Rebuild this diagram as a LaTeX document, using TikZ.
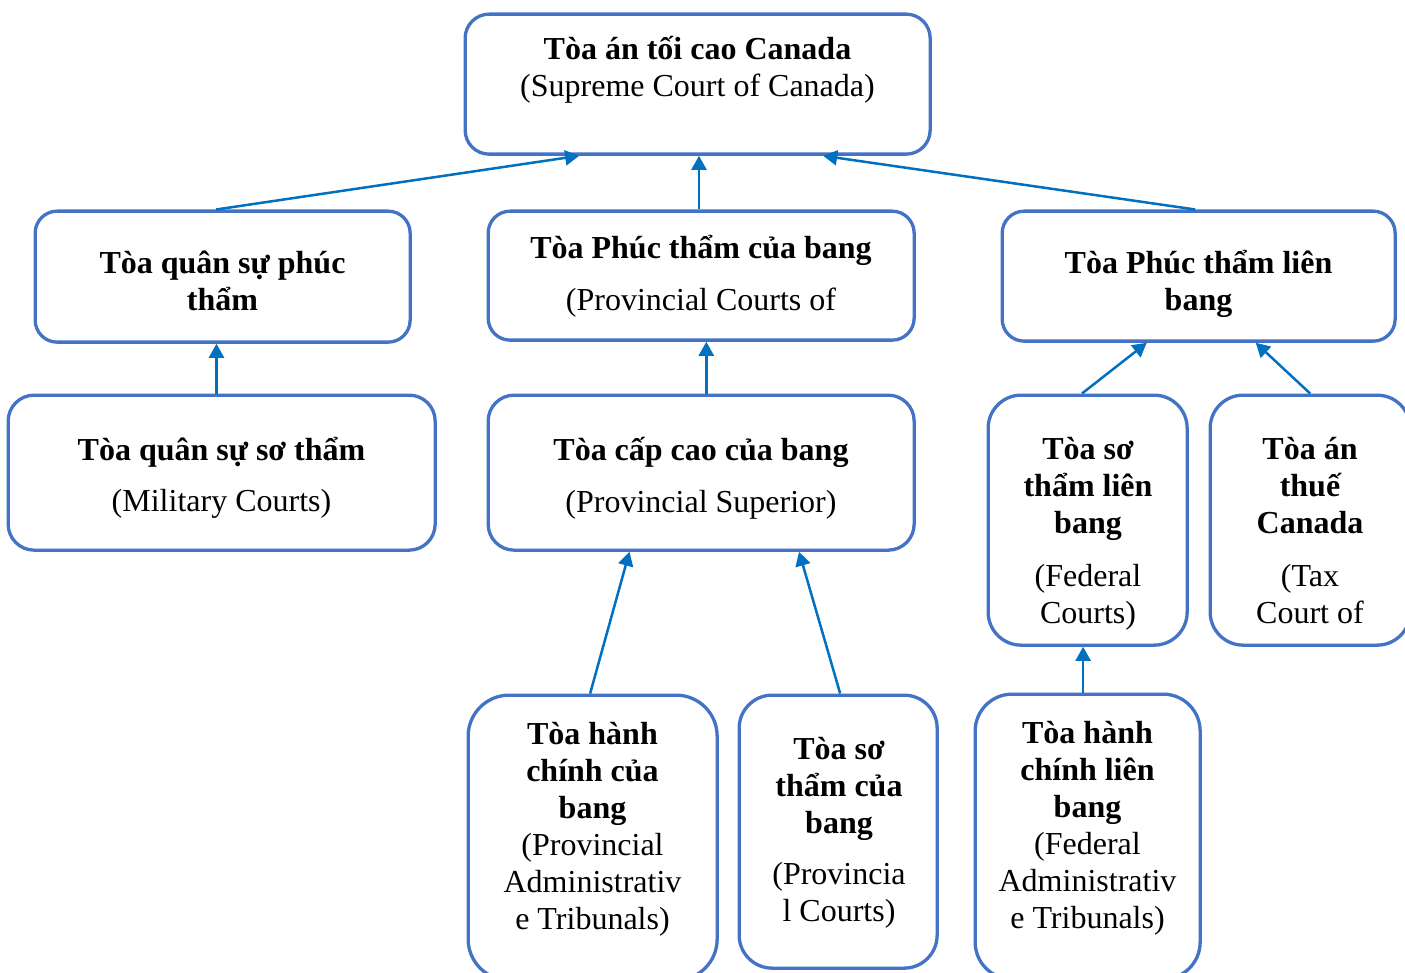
\documentclass[tikz,border=0pt]{standalone}
\usepackage{fontspec}
\setmainfont{Liberation Serif}
\usetikzlibrary{arrows.meta,calc}
\definecolor{boxblue}{HTML}{4472C4}
\definecolor{arrowblue}{HTML}{0070C0}
\newcommand\boxtext[2]{\parbox[t]{#1}{\centering #2}}
\begin{document}
\begin{tikzpicture}[x=1pt,y=-1pt,
  court/.style={draw=boxblue, line width=3.3pt, fill=white, inner sep=0pt, anchor=north west},
  ctext/.style={inner sep=0pt, anchor=base, font=\fontsize{32}{37}\selectfont},
  link/.style={draw=arrowblue, line width=2.5pt, -{Triangle[length=14pt,width=15pt]}}
]
\useasboundingbox[fill=white] (0,0) rectangle (1405,973);

% boxes
\node[court, rounded corners=24pt, minimum width=465pt, minimum height=140pt] (top) at (463.5,12.5) {};
\node[court, rounded corners=22pt, minimum width=375pt, minimum height=131pt] (milapp) at (33.5,209.5) {};
\node[court, rounded corners=22pt, minimum width=426pt, minimum height=129pt] (provapp) at (486.5,209.5) {};
\node[court, rounded corners=22pt, minimum width=393pt, minimum height=130pt] (fedapp) at (1000.5,209.5) {};
\node[court, rounded corners=26pt, minimum width=427pt, minimum height=155pt] (miltrial) at (6.5,393.5) {};
\node[court, rounded corners=26pt, minimum width=426pt, minimum height=155pt] (provsup) at (486.5,393.5) {};
\node[court, rounded corners=33pt, minimum width=199pt, minimum height=250pt] (fedcourts) at (986.5,393.5) {};
\node[court, rounded corners=33pt, minimum width=200pt, minimum height=250pt] (tax) at (1208.5,393.5) {};
\node[court, rounded corners=41pt, minimum width=249pt, minimum height=285pt] (provadmin) at (466.5,693.5) {};
\node[court, rounded corners=33pt, minimum width=198pt, minimum height=273pt] (provcourts) at (737.5,693.5) {};
\node[court, rounded corners=37pt, minimum width=225pt, minimum height=285pt] (fedadmin) at (973.5,692.5) {};

% texts
\node[ctext] (toptext) at (697.5,60) {\boxtext{455pt}{\bfseries Tòa án tối cao Canada\\ \mdseries (Supreme Court of Canada)}};
\node[ctext] (milapptext) at (222.5,274) {\boxtext{365pt}{\bfseries Tòa quân sự phúc\\thẩm}};
\node[ctext] (provapptext) at (701,259) {\boxtext{416pt}{\bfseries Tòa Phúc thẩm của bang\\[15pt]\mdseries (Provincial Courts of}};
\node[ctext] (fedapptext) at (1198.5,274) {\boxtext{383pt}{\bfseries Tòa Phúc thẩm liên\\bang}};
\node[ctext] (miltrialtext) at (221.5,460) {\boxtext{417pt}{\bfseries Tòa quân sự sơ thẩm\\[14pt]\mdseries (Military Courts)}};
\node[ctext] (provsuptext) at (701,460) {\boxtext{416pt}{\bfseries Tòa cấp cao của bang\\[15pt]\mdseries (Provincial Superior)}};
\node[ctext] (fedcourtstext) at (1088,459) {\boxtext{192pt}{\bfseries Tòa sơ\\thẩm liên\\bang\\[16pt]\mdseries (Federal\\Courts)}};
\node[ctext] (taxtext) at (1310,459) {\boxtext{192pt}{\bfseries Tòa án\\thuế\\Canada\\[16pt]\mdseries (Tax\\Court of}};
\node[ctext] (provadmintext) at (592.5,744) {\boxtext{240pt}{\bfseries Tòa hành\\chính của\\bang\\\mdseries (Provincial\\Administrativ\\e Tribunals)}};
\node[ctext] (provcourtstext) at (839,759) {\boxtext{190pt}{\bfseries Tòa sơ\\thẩm của\\bang\\[14pt]\mdseries (Provincia\\l Courts)}};
\node[ctext] (fedadmintext) at (1087.5,743) {\boxtext{218pt}{\bfseries Tòa hành\\chính liên\\bang\\\mdseries (Federal\\Administrativ\\e Tribunals)}};

% connector end points on the box edges
\coordinate (a1s) at ($(milapp.north west)!0.483!(milapp.north east)$);
\coordinate (a1e) at ($(top.south west)!0.247!(top.south east)$);
\coordinate (a2s) at ($(provapp.north west)!0.495!(provapp.north east)$);
\coordinate (a3s) at ($(fedapp.north west)!0.491!(fedapp.north east)$);
\coordinate (a3e) at ($(top.south west)!0.768!(top.south east)$);
\coordinate (a4s) at ($(miltrial.north west)!0.488!(miltrial.north east)$);
\coordinate (a5s) at ($(provsup.north west)!0.512!(provsup.north east)$);
\coordinate (a6s) at ($(fedcourts.north west)!0.472!(fedcourts.north east)$);
\coordinate (a6e) at ($(fedapp.south west)!0.369!(fedapp.south east)$);
\coordinate (a7s) at ($(tax.north west)!0.5!(tax.north east)$);
\coordinate (a7e) at ($(fedapp.south west)!0.644!(fedapp.south east)$);
\coordinate (a8s) at ($(provadmin.north west)!0.49!(provadmin.north east)$);
\coordinate (a8e) at ($(provsup.south west)!0.333!(provsup.south east)$);
\coordinate (a9s) at ($(provcourts.north west)!0.51!(provcourts.north east)$);
\coordinate (a9e) at ($(provsup.south west)!0.728!(provsup.south east)$);
\coordinate (a10s) at ($(fedadmin.north west)!0.48!(fedadmin.north east)$);

% connectors
\draw[link] (a1s) -- (a1e);
\draw[link] (a2s) -- (a2s |- top.south);
\draw[link] (a3s) -- (a3e);
\draw[link] (a4s) -- (a4s |- milapp.south);
\draw[link] (a5s) -- (a5s |- provapp.south);
\draw[link] (a6s) -- (a6e);
\draw[link] (a7s) -- (a7e);
\draw[link] (a8s) -- (a8e);
\draw[link] (a9s) -- (a9e);
\draw[link] (a10s) -- (a10s |- fedcourts.south);
\end{tikzpicture}
\end{document}
